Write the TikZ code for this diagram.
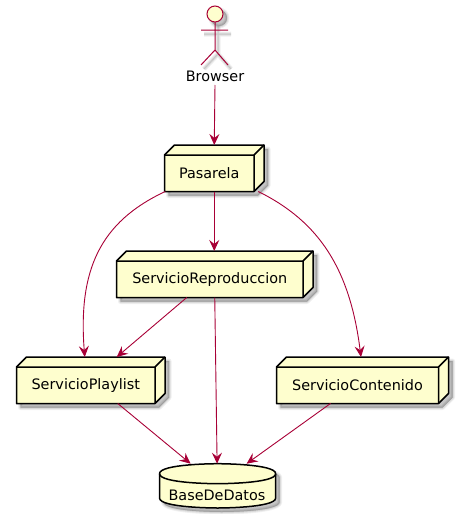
\documentclass[tikz,border=0pt]{standalone}
\usepackage{fontspec}
\setmainfont{DejaVu Sans}
\usetikzlibrary{arrows.meta}
\definecolor{umlline}{HTML}{A80036}
\definecolor{umlfill}{HTML}{FEFECE}
\tikzset{
  x=1pt,y=-1pt,
  every node/.style={font=\fontsize{14.4}{16}\selectfont,text=black,inner sep=0pt,outer sep=0pt},
  facebox/.style={draw=black,fill=umlfill,line width=1.5pt,line join=round},
  extent/.style={draw=none,fill=none,anchor=north west},
  conn/.style={draw=umlline,line width=.9pt,-{Stealth[length=11pt,width=10pt,inset=4pt]}},
  actorline/.style={draw=umlline,line width=1pt},
  softa/.style={black,opacity=.06,line width=5pt,line join=round},
  softb/.style={black,opacity=.08,line width=3pt,line join=round},
  softc/.style={black,opacity=.10,line width=1pt,line join=round},
}
\newcommand{\softfill}[1]{%
  \foreach \st in {softa,softb,softc}{\fill[\st,draw=black,shift={(4,4)}] #1;}}
\newcommand{\softdraw}[1]{%
  \foreach \st in {softa,softb,softc}{\draw[\st,shift={(3,4)}] #1;}}
\newcommand{\cubenode}[6]{%
  \softfill{(#2,#3+10) -- (#2+10,#3) -- (#4,#3) -- (#4,#5-10) -- (#4-10,#5) -- (#2,#5) -- cycle}
  \draw[facebox] (#2,#3+10) -- (#2+10,#3) -- (#4,#3) -- (#4,#5-10) -- (#4-10,#5) -- (#2,#5) -- cycle;
  \draw[facebox,fill=none] (#2,#3+10) -- (#4-10,#3+10) -- (#4-10,#5) (#4-10,#3+10) -- (#4,#3);
  \node[extent,minimum width=#4-#2,minimum height=#5-#3] (#1) at (#2,#3) {};
  \node (#1text) at ({(#2+#4-10)/2},{(#3+10+#5)/2}) {#6};
}
\begin{document}
\begin{tikzpicture}
\useasboundingbox (0,0) rectangle (464,514);
% actor
\softfill{(215,14) circle (8)}
\softdraw{(201,30) -- (228,30) (215,22) -- (215,50) -- (201,65) (215,50) -- (228,65)}
\draw[actorline,fill=umlfill] (215,14) circle (8);
\draw[actorline] (215,22) -- (215,50) (201,30) -- (228,30) (201,65) -- (215,50) -- (228,65);
\node[minimum width=60pt,minimum height=18pt] (browser) at (215,76) {Browser};
% nodes
\cubenode{pasarela}{164.5}{145}{264}{191.5}{Pasarela}
\cubenode{repro}{116.5}{251}{313}{297.5}{ServicioReproduccion}
\cubenode{playlist}{16.5}{357}{165}{403.5}{ServicioPlaylist}
\cubenode{contenido}{276.5}{357}{448.5}{403.5}{ServicioContenido}
% database
\def\dbpath{(159.5,473.7) .. controls (159.5,463.7) and (217.6,463.7) .. (217.6,463.7) .. controls (217.6,463.7) and (275.7,463.7) .. (275.7,473.7) -- (275.7,498) .. controls (275.7,508) and (217.6,508) .. (217.6,508) .. controls (217.6,508) and (159.5,508) .. (159.5,498) -- cycle}
\softfill{\dbpath}
\draw[facebox] \dbpath;
\draw[facebox,fill=none] (159.5,473.7) .. controls (159.5,483.7) and (217.6,483.7) .. (217.6,483.7) .. controls (217.6,483.7) and (275.7,483.7) .. (275.7,473.7);
\node[extent,minimum width=116.2pt,minimum height=44.3pt] (db) at (159.5,463.7) {};
\node (dbtext) at (217,495) {BaseDeDatos};
% connectors
\draw[conn] (browser.south) -- (pasarela.north);
\draw[conn] (pasarela.south) -- (repro.north -| pasarela.south);
\draw[conn] ([xshift=-49pt]pasarela.south) .. controls (100,222) and (78,270) .. ([xshift=-6pt]playlist.north);
\draw[conn] ([xshift=44pt]pasarela.south) .. controls (320,222) and (350,270) .. ([xshift=-1.5pt]contenido.north);
\draw[conn] ([xshift=-28pt]repro.south) -- ([xshift=26pt]playlist.north);
\draw[conn] (repro.south) -- ([xshift=-0.5pt]db.north);
\draw[conn] ([xshift=27pt]playlist.south) -- ([xshift=-27pt]db.north);
\draw[conn] ([xshift=-32pt]contenido.south) -- ([xshift=29pt]db.north);
\end{tikzpicture}
\end{document}
